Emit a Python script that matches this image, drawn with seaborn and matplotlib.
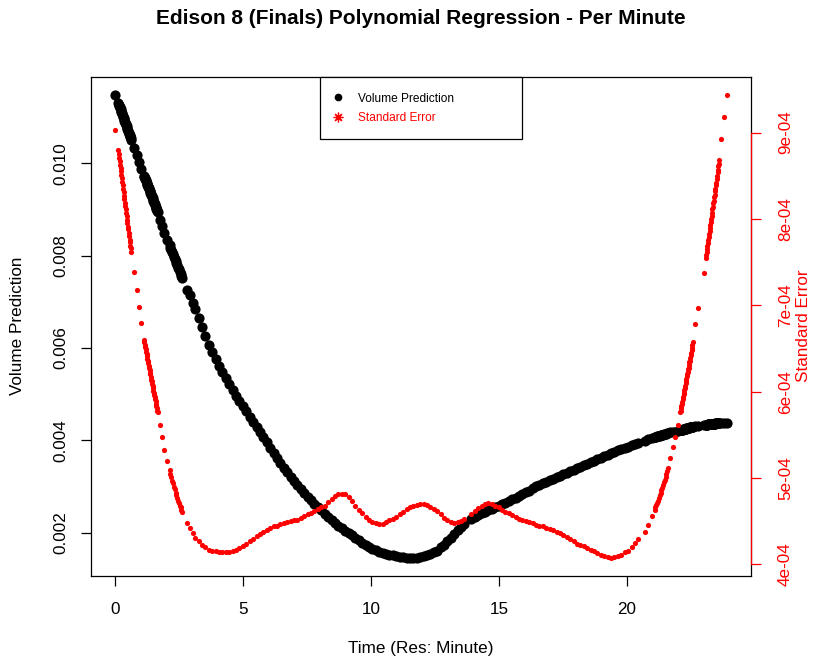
import numpy as np
import pandas as pd
import matplotlib
matplotlib.use("Agg")
import matplotlib.pyplot as plt
import seaborn as sns
from matplotlib.lines import Line2D
from matplotlib.ticker import FuncFormatter

# Observation times, in minutes since midnight (gaps = missing minutes)
minutes = [
    0,
    7, 8, 9, 10, 11, 12, 13, 14, 15, 16, 17, 18, 19, 20, 21, 22,
    23, 24, 25, 26, 27, 28, 29, 30, 31, 32, 33, 34, 35, 36, 37,
    44, 50, 55, 61,
    67, 68, 69, 70, 71, 72, 73, 74, 75, 76, 77, 78, 79, 80, 81, 82,
    83, 84, 85, 86, 87, 88, 89, 90, 91, 92, 93, 94, 95, 96, 97, 98, 99,
    104, 109, 115, 122,
    127, 129, 131, 133, 135, 137, 139, 141, 143, 145, 147, 149, 151, 153, 155, 157,
    169, 174, 182,
    187, 195, 203, 211, 219, 227, 235, 243, 251, 259,
    267, 275, 283, 291, 299, 307, 315, 323, 331, 339,
    347, 355, 363, 371, 379, 387, 395, 403, 411, 419,
    427, 435, 443, 451, 459, 467, 475, 483, 491, 499,
    507, 515, 523, 531, 539, 547, 555, 563, 571, 579,
    587, 595, 603, 611, 619, 627, 635, 643, 651, 659,
    667, 675, 683, 691, 699, 707, 715, 723, 731, 739,
    747, 755, 763, 771, 779, 787, 795, 803, 811, 819,
    835, 843, 851, 859, 867, 875, 883, 891, 899, 907,
    915, 923, 931, 939, 947, 955, 963, 971, 979, 987,
    995, 1003, 1011, 1019, 1027, 1035, 1043, 1051, 1059, 1067,
    1075, 1083, 1091, 1099, 1107, 1115, 1123, 1131, 1139, 1147,
    1155, 1163, 1171, 1179, 1187, 1195, 1203, 1211, 1219, 1227,
    1242, 1250, 1258,
    1265, 1267, 1269, 1271, 1273, 1275, 1277, 1279, 1281, 1283, 1285, 1287, 1289, 1291, 1293, 1295, 1297,
    1302, 1309, 1313, 1320,
    1325, 1326, 1327, 1328, 1329, 1330, 1331, 1332, 1333, 1334, 1335, 1336, 1337, 1338, 1339, 1340,
    1341, 1342, 1343, 1344, 1345, 1346, 1347, 1348, 1349, 1350, 1351, 1352, 1353, 1354, 1355,
    1361, 1367, 1380,
    1385, 1386, 1387, 1388, 1389, 1390, 1391, 1392, 1393, 1394, 1395, 1396, 1397, 1398, 1399, 1400,
    1401, 1402, 1403, 1404, 1405, 1406, 1407, 1408, 1409, 1410, 1411, 1412, 1413, 1414, 1415, 1416, 1417,
    1421, 1427, 1434,
]

# Predicted volume, in units of 1e-3
volume_e3 = [
    11.47,
    11.30, 11.27, 11.25, 11.22, 11.20, 11.17, 11.14, 11.12, 11.09, 11.06, 11.03, 11.01, 10.98, 10.95, 10.92, 10.90,
    10.87, 10.85, 10.82, 10.80, 10.77, 10.74, 10.71, 10.69, 10.66, 10.64, 10.61, 10.59, 10.56, 10.54, 10.51,
    10.33, 10.17, 10.03, 9.87,
    9.73, 9.71, 9.68, 9.66, 9.63, 9.61, 9.58, 9.56, 9.54, 9.51, 9.49, 9.46, 9.44, 9.41, 9.39, 9.36,
    9.34, 9.31, 9.29, 9.26, 9.24, 9.21, 9.19, 9.16, 9.14, 9.11, 9.09, 9.06, 9.04, 9.01, 8.99, 8.96, 8.94,
    8.78, 8.64, 8.49, 8.33,
    8.22, 8.17, 8.12, 8.07, 8.03, 7.98, 7.93, 7.88, 7.84, 7.79, 7.74, 7.70, 7.65, 7.60, 7.56, 7.51,
    7.26, 7.15, 6.97,
    6.84, 6.65, 6.45, 6.25, 6.06, 5.91, 5.76, 5.61, 5.47, 5.34,
    5.21, 5.08, 4.96, 4.85, 4.74, 4.63, 4.51, 4.40, 4.29, 4.18,
    4.07, 3.96, 3.84, 3.72, 3.61, 3.51, 3.41, 3.31, 3.21, 3.11,
    3.03, 2.94, 2.85, 2.77, 2.70, 2.62, 2.55, 2.48, 2.41, 2.34,
    2.27, 2.21, 2.15, 2.09, 2.04, 1.99, 1.94, 1.88, 1.83, 1.78,
    1.74, 1.69, 1.65, 1.62, 1.59, 1.56, 1.54, 1.52, 1.51, 1.49,
    1.48, 1.47, 1.46, 1.46, 1.46, 1.46, 1.47, 1.49, 1.51, 1.54,
    1.57, 1.61, 1.68, 1.74, 1.81, 1.89, 1.97, 2.05, 2.13, 2.19,
    2.30, 2.34, 2.38, 2.42, 2.45, 2.48, 2.51, 2.55, 2.58, 2.61,
    2.65, 2.68, 2.72, 2.75, 2.79, 2.83, 2.87, 2.91, 2.96, 3.00,
    3.03, 3.07, 3.10, 3.14, 3.17, 3.20, 3.23, 3.26, 3.30, 3.33,
    3.36, 3.39, 3.42, 3.46, 3.49, 3.53, 3.56, 3.59, 3.62, 3.66,
    3.69, 3.72, 3.75, 3.78, 3.81, 3.83, 3.86, 3.89, 3.91, 3.94,
    3.99, 4.02, 4.04,
    4.07, 4.08, 4.08, 4.09, 4.09, 4.10, 4.10, 4.11, 4.11, 4.12, 4.12, 4.13, 4.13, 4.14, 4.14, 4.15, 4.15,
    4.17, 4.18, 4.19, 4.20,
    4.22, 4.22, 4.22, 4.23, 4.23, 4.23, 4.23, 4.24, 4.24, 4.24, 4.24, 4.25, 4.25, 4.25, 4.25, 4.26,
    4.26, 4.26, 4.26, 4.27, 4.27, 4.27, 4.27, 4.28, 4.28, 4.28, 4.28, 4.29, 4.29, 4.29, 4.29,
    4.30, 4.31, 4.33,
    4.34, 4.34, 4.34, 4.34, 4.34, 4.35, 4.35, 4.35, 4.35, 4.35, 4.35, 4.35, 4.35, 4.36, 4.36, 4.36,
    4.36, 4.36, 4.36, 4.36, 4.36, 4.36, 4.36, 4.37, 4.37, 4.37, 4.37, 4.37, 4.37, 4.37, 4.37, 4.37, 4.37,
    4.37, 4.38, 4.38,
]

# Standard error of the prediction, in units of 1e-4
stderr_e4 = [
    9.03,
    8.80, 8.75, 8.71, 8.67, 8.63, 8.59, 8.55, 8.51, 8.47, 8.43, 8.39, 8.35, 8.31, 8.27, 8.23, 8.19,
    8.15, 8.11, 8.07, 8.03, 7.99, 7.95, 7.91, 7.88, 7.84, 7.80, 7.76, 7.73, 7.69, 7.66, 7.62,
    7.39, 7.18, 6.98, 6.79,
    6.60, 6.57, 6.54, 6.52, 6.49, 6.46, 6.44, 6.41, 6.38, 6.36, 6.33, 6.30, 6.28, 6.25, 6.22, 6.20,
    6.17, 6.14, 6.12, 6.09, 6.07, 6.04, 6.01, 5.99, 5.96, 5.94, 5.91, 5.89, 5.86, 5.83, 5.81, 5.78, 5.76,
    5.61, 5.47, 5.33, 5.20,
    5.09, 5.05, 5.01, 4.97, 4.94, 4.90, 4.87, 4.83, 4.80, 4.77, 4.74, 4.71, 4.68, 4.66, 4.63, 4.61,
    4.48, 4.42, 4.36,
    4.31, 4.27, 4.23, 4.20, 4.17, 4.16, 4.15, 4.14, 4.14, 4.14,
    4.14, 4.15, 4.17, 4.19, 4.21, 4.24, 4.27, 4.30, 4.33, 4.35,
    4.38, 4.40, 4.42, 4.44, 4.45, 4.47, 4.48, 4.49, 4.50, 4.51,
    4.52, 4.54, 4.56, 4.58, 4.60, 4.62, 4.64, 4.66, 4.68, 4.72,
    4.76, 4.79, 4.81, 4.82, 4.81, 4.78, 4.73, 4.68, 4.63, 4.59,
    4.55, 4.51, 4.49, 4.48, 4.47, 4.47, 4.49, 4.51, 4.53, 4.55,
    4.58, 4.61, 4.64, 4.66, 4.68, 4.69, 4.70, 4.70, 4.69, 4.67,
    4.64, 4.62, 4.58, 4.54, 4.51, 4.49, 4.48, 4.49, 4.50, 4.53,
    4.58, 4.62, 4.65, 4.68, 4.70, 4.71, 4.70, 4.68, 4.66, 4.63,
    4.61, 4.59, 4.57, 4.55, 4.53, 4.52, 4.50, 4.49, 4.48, 4.46,
    4.45, 4.44, 4.42, 4.41, 4.40, 4.38, 4.36, 4.34, 4.32, 4.29,
    4.27, 4.24, 4.22, 4.21, 4.19, 4.17, 4.15, 4.13, 4.11, 4.10,
    4.09, 4.08, 4.09, 4.10, 4.11, 4.14, 4.16, 4.20, 4.25, 4.29,
    4.38, 4.46, 4.56,
    4.63, 4.66, 4.69, 4.71, 4.74, 4.77, 4.80, 4.83, 4.86, 4.89, 4.92, 4.95, 4.98, 5.01, 5.05, 5.08, 5.12,
    5.23, 5.36, 5.48, 5.62,
    5.76, 5.78, 5.81, 5.83, 5.86, 5.88, 5.91, 5.94, 5.97, 5.99, 6.02, 6.04, 6.07, 6.10, 6.12, 6.15,
    6.18, 6.20, 6.23, 6.26, 6.28, 6.31, 6.34, 6.36, 6.39, 6.42, 6.45, 6.48, 6.51, 6.54, 6.57,
    6.78, 6.97, 7.37,
    7.55, 7.58, 7.62, 7.65, 7.69, 7.72, 7.76, 7.79, 7.83, 7.86, 7.90, 7.93, 7.97, 8.00, 8.04, 8.07,
    8.11, 8.14, 8.18, 8.21, 8.25, 8.28, 8.32, 8.35, 8.39, 8.42, 8.46, 8.50, 8.54, 8.57, 8.61, 8.64, 8.68,
    8.93, 9.18, 9.43,
]

x_ticks = [0, 5, 10, 15, 20]
volume_ticks = [0.002, 0.004, 0.006, 0.008, 0.010]
stderr_ticks = [4e-4, 5e-4, 6e-4, 7e-4, 8e-4, 9e-4]
legend_labels = ["Volume Prediction", "Standard Error"]

assert len(minutes) == len(volume_e3) == len(stderr_e4)

df = pd.DataFrame({
    "hour": np.asarray(minutes) / 60.0,
    "volume": np.asarray(volume_e3) * 1e-3,
    "stderr": np.asarray(stderr_e4) * 1e-4,
})

sns.set_theme(style="ticks")
plt.rcParams["font.family"] = ["Liberation Sans", "DejaVu Sans"]
plt.rcParams["text.color"] = "black"
plt.rcParams["axes.labelcolor"] = "black"

RED = "#ff0000"
W, H = 817, 666
fig = plt.figure(figsize=(W / 100, H / 100), dpi=100)
fig.patch.set_facecolor("white")
ax = fig.add_axes([91 / W, 1 - 576 / H, 660 / W, 499 / H])

# volume prediction (left axis)
sns.scatterplot(data=df, x="hour", y="volume", ax=ax, color="black",
                s=54, linewidth=0, legend=False)
ax.margins(x=0.04, y=0.04)

# standard error (right axis)
ax2 = ax.twinx()
sns.scatterplot(data=df, x="hour", y="stderr", ax=ax2, color=RED,
                s=14, linewidth=0, legend=False)
ax2.margins(x=0.04, y=0.04)

for a in (ax, ax2):
    a.set_xlabel("")
    a.set_ylabel("")

ax.set_xticks(x_ticks)
ax.set_xticklabels([str(t) for t in x_ticks])
ax.set_yticks(volume_ticks)
ax.set_yticklabels([f"{v:.3f}" for v in volume_ticks])
ax2.set_yticks(stderr_ticks)
ax2.yaxis.set_major_formatter(FuncFormatter(lambda v, p: f"{v:.0e}"))

for side in ("left", "right", "top", "bottom"):
    ax.spines[side].set_visible(True)
    ax.spines[side].set_color("black")
    ax.spines[side].set_linewidth(0.9)
for side in ("left", "top", "bottom"):
    ax2.spines[side].set_visible(False)
ax2.spines["right"].set_color(RED)
ax2.spines["right"].set_linewidth(0.9)
ax2.spines["right"].set_bounds(stderr_ticks[0], stderr_ticks[-1])

ax.tick_params(axis="x", direction="out", length=7.5, width=0.9, colors="black",
               labelsize=12.3, pad=11, bottom=True)
ax.tick_params(axis="y", direction="out", length=7.5, width=0.9, colors="black",
               labelsize=12.3, pad=9, left=True, right=False)
ax2.tick_params(axis="y", direction="out", length=7.5, width=0.9, colors=RED,
                labelsize=12.3, pad=12, right=True, left=False)
for lab in ax.get_yticklabels():
    lab.set_rotation(90)
    lab.set_va("center")
for lab in ax2.get_yticklabels():
    lab.set_rotation(90)
    lab.set_va("center")

# legend
handles = [
    Line2D([], [], marker="o", color="black", linestyle="none", markersize=4.5),
    Line2D([], [], marker=(8, 2, 0), color=RED, markeredgecolor=RED,
           linestyle="none", markersize=7, markeredgewidth=0.9),
]
leg = ax2.legend(handles, legend_labels, loc="upper left",
                 bbox_to_anchor=(0.347, 0.0, 0.306, 1.0), mode="expand",
                 borderaxespad=0, fontsize=8.6, frameon=True, fancybox=False,
                 edgecolor="black", borderpad=1.3, labelspacing=0.6,
                 handletextpad=1.5, handlelength=0.35, framealpha=1)
leg.get_frame().set_linewidth(0.9)
leg.get_texts()[0].set_color("black")
leg.get_texts()[1].set_color(RED)

# titles and axis labels
fig.text(421 / W, 1 - 18 / H, "Edison 8 (Finals) Polynomial Regression - Per Minute",
         ha="center", va="center", fontsize=15, fontweight="bold", color="black")
fig.text(421 / W, 1 - 648 / H, "Time (Res: Minute)", ha="center", va="center",
         fontsize=12.3, color="black")
fig.text(18 / W, 1 - 326 / H, "Volume Prediction", ha="center", va="center",
         rotation=90, fontsize=12.3, color="black")
fig.text(803 / W, 1 - 326 / H, "Standard Error", ha="center", va="center",
         rotation=90, fontsize=12.3, color=RED)

fig.savefig("out.png", dpi=100, facecolor="white")
